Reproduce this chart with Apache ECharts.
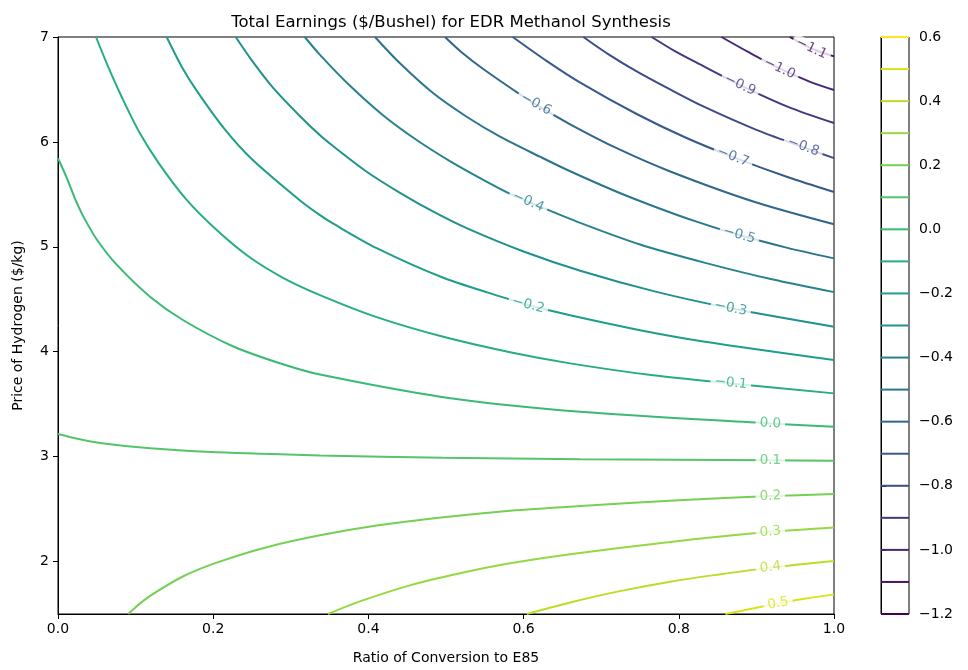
<!DOCTYPE html>
<html><head><meta charset="utf-8">
<script src="https://cdn.jsdelivr.net/npm/echarts@6/dist/echarts.min.js"></script>
<style>html,body{margin:0;padding:0;background:#fff}#c{width:968px;height:670px}</style>
</head><body><div id="c"></div>
<script>
// ---- colorbar levels & viridis colours ----
const levels = [-1.2,-1.1,-1.0,-0.9,-0.8,-0.7,-0.6,-0.5,-0.4,-0.3,-0.2,-0.1,0.0,0.1,0.2,0.3,0.4,0.5,0.6];
const levelColors = ['#440154','#471365','#482677','#453781','#3e4a89','#38598c','#30678d','#2b758e','#26838e','#21918c','#1f9e89','#26ad81','#3aba76','#54c568','#75d054','#95d840','#b8de29','#dae319','#fde725'];

// ---- contour lines: [ratio, price] ----
const c_p05 = [[0.86,1.5],[0.90,1.56],[0.928,1.601],[0.96,1.643],[1.0,1.687]];
const c_p04 = [[0.604,1.5],[0.66,1.61],[0.724,1.718],[0.789,1.808],[0.85,1.875],[0.918,1.942],[1.0,2.005]];
const c_p03 = [[0.348,1.5],[0.389,1.62],[0.4536,1.773],[0.518,1.888],[0.5825,1.983],[0.66,2.07],[0.789,2.187],[0.918,2.283],[1.0,2.325]];
const c_p02 = [[0.0906,1.5],[0.10,1.565],[0.1186,1.672],[0.1615,1.86],[0.2045,1.99],[0.269,2.137],[0.3376,2.25],[0.4107,2.343],[0.4966,2.423],[0.5825,2.485],[0.673,2.53],[0.80,2.585],[0.918,2.624],[1.0,2.643]];
const c_p01 = [[0.0,3.215],[0.025,3.17],[0.054,3.13],[0.1186,3.079],[0.2045,3.041],[0.3376,3.012],[0.4966,2.99],[0.673,2.975],[0.918,2.966],[1.0,2.961]];
const c_000 = [[0.0,5.844],[0.011,5.662],[0.0219,5.46],[0.0326,5.29],[0.05,5.07],[0.0756,4.83],[0.1186,4.525],[0.1615,4.3],[0.226,4.05],[0.29,3.88],[0.3376,3.782],[0.4966,3.567],[0.673,3.428],[0.918,3.317],[1.0,3.285]];
const c_m01 = [[0.049,7.0],[0.065,6.71],[0.082,6.43],[0.105,6.09],[0.13,5.796],[0.165,5.455],[0.2045,5.16],[0.247,4.9],[0.29,4.705],[0.3376,4.54],[0.4107,4.33],[0.4966,4.142],[0.5825,3.995],[0.66,3.889],[0.767,3.775],[0.867,3.698],[1.0,3.603]];
const c_m02 = [[0.14,7.0],[0.16,6.71],[0.18,6.475],[0.215,6.12],[0.25,5.835],[0.3119,5.442],[0.3376,5.302],[0.3548,5.22],[0.4107,4.987],[0.4966,4.705],[0.5825,4.498],[0.606,4.445],[0.66,4.347],[0.75,4.205],[0.8316,4.098],[1.0,3.921]];
const c_m03 = [[0.229,7.0],[0.25,6.775],[0.2767,6.52],[0.3119,6.245],[0.3376,6.063],[0.3548,5.958],[0.3978,5.716],[0.4407,5.515],[0.4837,5.335],[0.5266,5.178],[0.60,4.955],[0.673,4.772],[0.77,4.573],[0.867,4.414],[1.0,4.238]];
const c_m04 = [[0.318,7.0],[0.3376,6.83],[0.3763,6.535],[0.4192,6.252],[0.4622,6.018],[0.505,5.817],[0.548,5.638],[0.5825,5.505],[0.606,5.43],[0.673,5.228],[0.75,5.022],[0.8316,4.852],[0.92,4.69],[1.0,4.568]];
const c_m05 = [[0.4085,7.0],[0.4407,6.749],[0.4837,6.463],[0.5266,6.24],[0.5696,6.05],[0.6211,5.859],[0.66,5.72],[0.72,5.525],[0.77,5.38],[0.82,5.247],[0.878,5.112],[0.94,4.99],[1.0,4.89]];
const c_m06 = [[0.4987,7.0],[0.52,6.855],[0.548,6.695],[0.593,6.465],[0.616,6.355],[0.66,6.168],[0.72,5.94],[0.789,5.718],[0.896,5.432],[1.0,5.215]];
const c_m07 = [[0.586,7.0],[0.63,6.77],[0.673,6.565],[0.7457,6.266],[0.81,6.037],[0.870,5.855],[0.94,5.665],[1.0,5.522]];
const c_m08 = [[0.677,7.0],[0.71,6.832],[0.7457,6.672],[0.79,6.495],[0.8316,6.338],[0.90,6.115],[0.9605,5.95],[1.0,5.845]];
const c_m09 = [[0.765,7.0],[0.795,6.865],[0.823,6.755],[0.879,6.542],[0.94,6.337],[1.0,6.18]];
const c_m10 = [[0.855,7.0],[0.89,6.855],[0.93,6.70],[0.97,6.57],[1.0,6.495]];
const c_m11 = [[0.943,7.0],[0.971,6.89],[1.0,6.815]];

const contourLevels = [0.5,0.4,0.3,0.2,0.1,0.0,-0.1,-0.2,-0.3,-0.4,-0.5,-0.6,-0.7,-0.8,-0.9,-1.0,-1.1];
const contourLines  = [c_p05,c_p04,c_p03,c_p02,c_p01,c_000,c_m01,c_m02,c_m03,c_m04,c_m05,c_m06,c_m07,c_m08,c_m09,c_m10,c_m11];

// ---- inline contour labels ----
const labelTexts = ['−1.1','−1.0','−0.9','−0.8','−0.7','−0.6','−0.5','−0.4','−0.3','−0.2','−0.1','0.0','0.1','0.2','0.3','0.4','0.5'];
const labelLevels = [-1.1,-1.0,-0.9,-0.8,-0.7,-0.6,-0.5,-0.4,-0.3,-0.2,-0.1,0.0,0.1,0.2,0.3,0.4,0.5];
const labelX = [0.971,0.930,0.879,0.9605,0.870,0.616,0.878,0.606,0.867,0.606,0.867,0.918,0.918,0.918,0.918,0.918,0.928];
const labelY = [6.89,6.70,6.542,5.954,5.857,6.36,5.112,5.43,4.414,4.445,3.702,3.317,2.966,2.624,2.284,1.945,1.601];
const labelRotate = [-25,-25,-25,-20,-21,-28,-16,-24,-11,-15,-6,-3,0,2,5,7,10];

// ---- axis ticks ----
const xTicks = [0.0,0.2,0.4,0.6,0.8,1.0];
const yTicks = [2,3,4,5,6,7];

const FONT = 'DejaVu Sans';
function colorOf(v){ const i = levels.findIndex(l => Math.abs(l - v) < 1e-9); return levelColors[i]; }
function fmtMinus(v){ return (v < -1e-9 ? '\u2212' : '') + Math.abs(v).toFixed(1); }

const series = [];
contourLines.forEach((d, i) => {
  series.push({
    type: 'line', xAxisIndex: 0, yAxisIndex: 0, data: d,
    smooth: 0.3, symbol: 'none', silent: true,
    lineStyle: { color: colorOf(contourLevels[i]), width: 2 }, z: 2
  });
});
series.push({
  type: 'scatter', xAxisIndex: 0, yAxisIndex: 0, symbolSize: 1, silent: true, z: 5,
  itemStyle: { color: 'rgba(0,0,0,0)' },
  data: labelTexts.map((t, i) => ({
    value: [labelX[i], labelY[i]],
    label: {
      show: true, position: 'inside', formatter: t, rotate: labelRotate[i],
      color: colorOf(labelLevels[i]), fontFamily: FONT, fontSize: 13.5,
      backgroundColor: '#ffffff', padding: [0, 4]
    }
  }))
});
levels.forEach((v, i) => {
  series.push({
    type: 'line', xAxisIndex: 1, yAxisIndex: 1, data: [[0, v], [1, v]],
    symbol: 'none', silent: true, clip: false,
    lineStyle: { color: levelColors[i], width: 2 }, z: 3
  });
});

const chart = echarts.init(document.getElementById('c'), null, { renderer: 'canvas' });
chart.setOption({
  animation: false,
  backgroundColor: '#ffffff',
  textStyle: { fontFamily: FONT },
  title: {
    text: 'Total Earnings ($/Bushel) for EDR Methanol Synthesis',
    left: 446, top: 9, textAlign: 'center',
    textStyle: { fontFamily: FONT, fontSize: 16.5, fontWeight: 'normal', color: '#000' }
  },
  grid: [
    { left: 58, top: 37, width: 776, height: 577, show: true, borderColor: '#000', borderWidth: 1, backgroundColor: 'transparent' },
    { left: 881, top: 37, width: 28, height: 577, show: true, borderColor: '#000', borderWidth: 1, backgroundColor: 'transparent' }
  ],
  xAxis: [
    { type: 'value', gridIndex: 0, min: 0, max: 1, interval: 0.2,
      name: 'Ratio of Conversion to E85', nameLocation: 'middle', nameGap: 37,
      nameTextStyle: { fontFamily: FONT, fontSize: 14, color: '#000' },
      axisLine: { show: true, lineStyle: { color: '#000', width: 1 } },
      axisTick: { show: true, length: 5, lineStyle: { color: '#000' } },
      axisLabel: { margin: 8, fontFamily: FONT, fontSize: 14, color: '#000', formatter: v => v.toFixed(1) },
      splitLine: { show: false } },
    { type: 'value', gridIndex: 1, min: 0, max: 1, show: false }
  ],
  yAxis: [
    { type: 'value', gridIndex: 0, min: 1.5, max: 7,
      name: 'Price of Hydrogen ($/kg)', nameLocation: 'middle', nameGap: 33, nameRotate: 90,
      nameTextStyle: { fontFamily: FONT, fontSize: 14, color: '#000' },
      axisLine: { show: true, lineStyle: { color: '#000', width: 1 } },
      axisTick: { show: true, length: 5, lineStyle: { color: '#000' }, customValues: yTicks },
      axisLabel: { margin: 9, fontFamily: FONT, fontSize: 14, color: '#000', customValues: yTicks, formatter: v => String(Math.round(v)) },
      splitLine: { show: false } },
    { type: 'value', gridIndex: 1, min: -1.2, max: 0.6, interval: 0.2, position: 'right',
      axisLine: { show: true, lineStyle: { color: '#000', width: 1 } },
      axisTick: { show: true, length: 5, lineStyle: { color: '#000' } },
      axisLabel: { margin: 10, fontFamily: FONT, fontSize: 14, color: '#000', formatter: fmtMinus },
      splitLine: { show: false } }
  ],
  series: series
});
</script>
</body></html>
